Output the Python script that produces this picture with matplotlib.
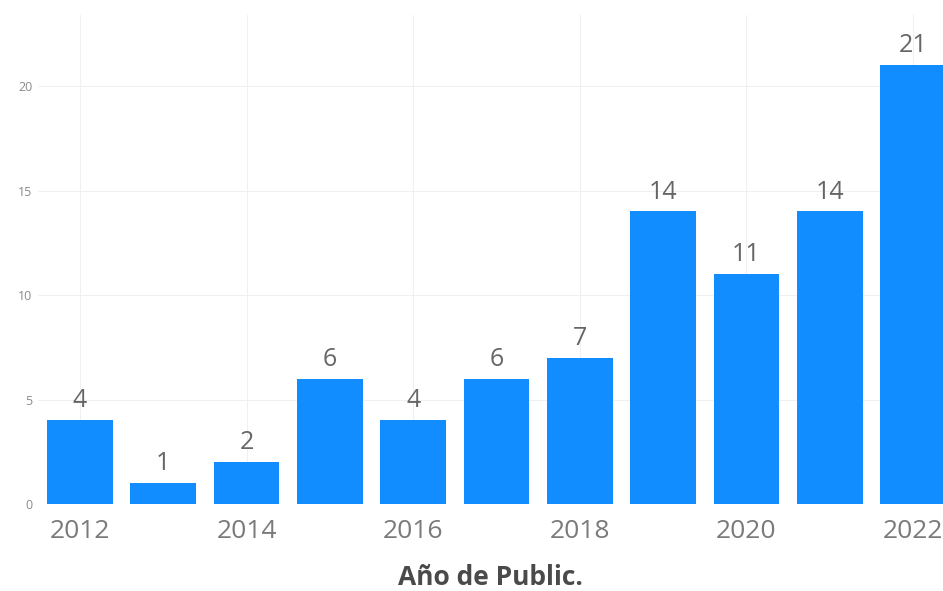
import matplotlib
matplotlib.use("Agg")
import matplotlib.pyplot as plt

# Publications per year
years = [2012, 2013, 2014, 2015, 2016, 2017, 2018, 2019, 2020, 2021, 2022]
counts = [4, 1, 2, 6, 4, 6, 7, 14, 11, 14, 21]
xticks = [2012, 2014, 2016, 2018, 2020, 2022]
yticks = [0, 5, 10, 15, 20]

plt.rcParams['font.family'] = ['Open Sans', 'DejaVu Sans']

fig = plt.figure(figsize=(9.43, 5.91), dpi=100)
ax = fig.add_axes([0.0403, 0.1472, 0.9597, 0.8274])

bars = ax.bar(years, counts, width=0.79, color='#118DFF', zorder=3)
for x, v in zip(years, counts):
    ax.annotate(str(v), (x, v), xytext=(0, 5), textcoords='offset points',
                ha='center', va='bottom', fontsize=18, color='#666666')

ax.set_xlim(2011.496, 2022.36)
ax.set_ylim(0, 23.4)
ax.set_xticks(xticks)
ax.set_yticks(yticks)
ax.tick_params(axis='x', length=0, pad=11, labelsize=19, labelcolor='#7a7a7a')
ax.tick_params(axis='y', length=0, pad=4, labelsize=9, labelcolor='#8a8a8a')
ax.grid(True, color='#f0f0f0', linewidth=0.8, zorder=0)
for s in ax.spines.values():
    s.set_visible(False)

ax.set_xlabel('Año de Public.', fontsize=19, fontweight='bold', color='#4a4a4a',
              labelpad=14)

fig.savefig('out.png', dpi=100)
